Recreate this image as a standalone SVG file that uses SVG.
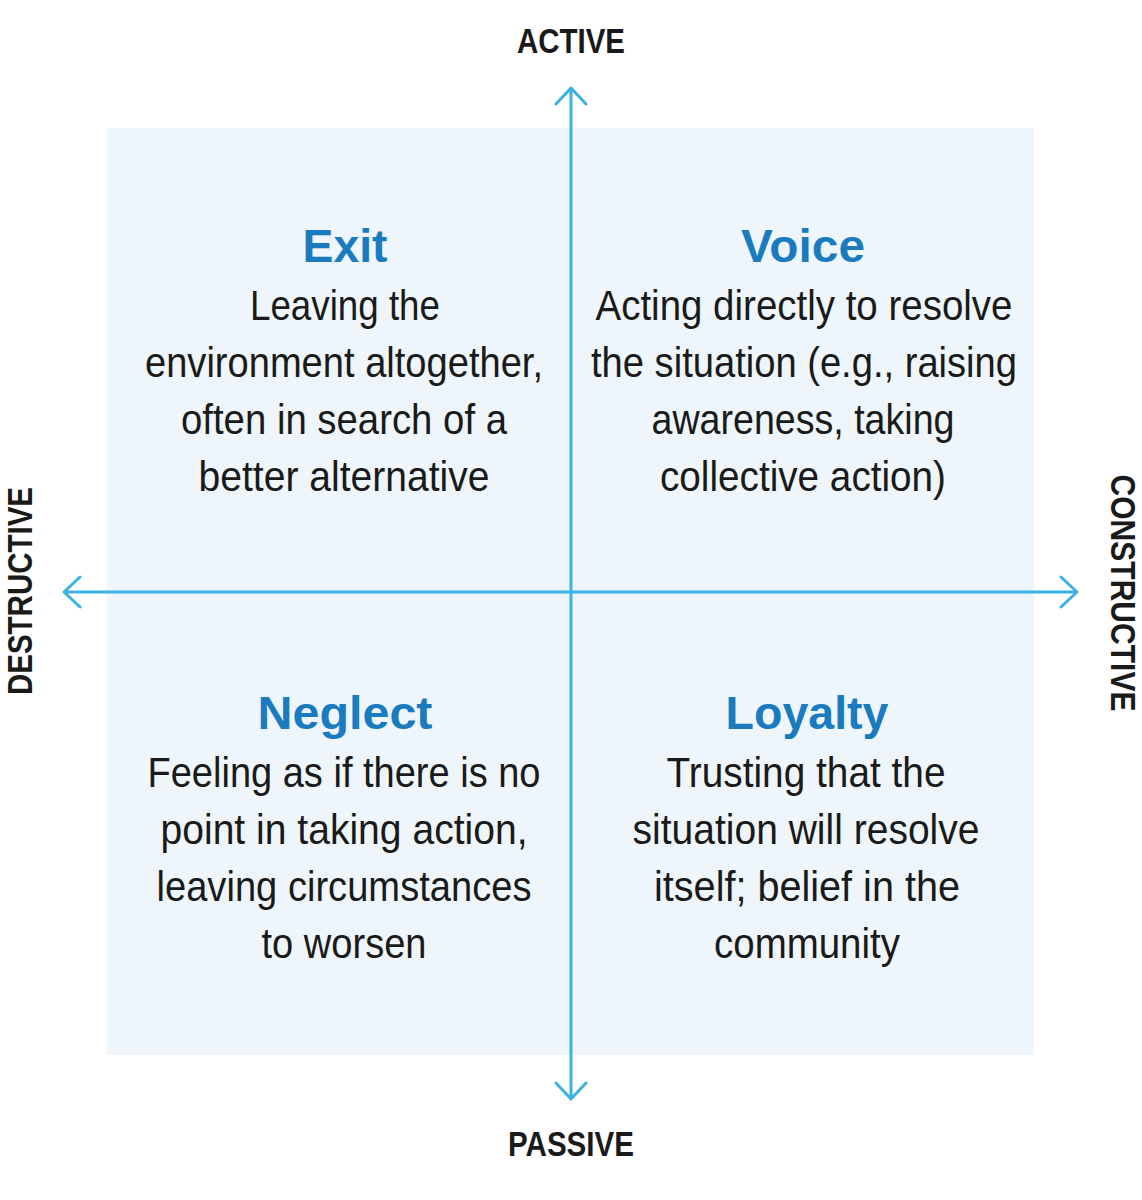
<svg xmlns="http://www.w3.org/2000/svg" width="1142" height="1200" viewBox="0 0 1142 1200">
<style>
.t{font-family:"Liberation Sans Narrow","Liberation Sans",Arial,sans-serif;font-weight:bold;font-size:46px;fill:#1b7bbf;text-anchor:middle}
.b{font-family:"Liberation Sans Narrow","Liberation Sans",Arial,sans-serif;font-size:42px;fill:#1a1a1a;text-anchor:middle}
.a{font-family:"Liberation Sans Narrow","Liberation Sans",Arial,sans-serif;font-weight:bold;font-size:35px;fill:#1a1a1a;text-anchor:middle}
.ax{stroke:#3cb1e3;stroke-width:3;fill:none;stroke-linecap:round;stroke-linejoin:round}
</style>
<rect x="0" y="0" width="1142" height="1200" fill="#fff"/>
<rect x="107" y="128" width="927" height="927" fill="#eef6fb"/>
<g id="connectors">
<path class="ax" d="M571 88V1099M556 104L571 88L586 104M556 1083L571 1099L586 1083"/>
<path class="ax" d="M64 592H1077M80 577L64 592L80 607M1061 577L1077 592L1061 607"/>
</g>
<g id="axis-labels">
<text class="a" x="571" y="53" textLength="108" lengthAdjust="spacingAndGlyphs">ACTIVE</text>
<text class="a" x="571" y="1156" textLength="126" lengthAdjust="spacingAndGlyphs">PASSIVE</text>
<text class="a" transform="translate(32 591) rotate(-90)" textLength="208" lengthAdjust="spacingAndGlyphs">DESTRUCTIVE</text>
<text class="a" transform="translate(1111 593) rotate(90)" textLength="237" lengthAdjust="spacingAndGlyphs">CONSTRUCTIVE</text>
</g>
<g id="exit">
<text class="t" x="345" y="262" textLength="85" lengthAdjust="spacingAndGlyphs">Exit</text>
<text class="b" x="345" y="320" textLength="190" lengthAdjust="spacingAndGlyphs">Leaving the</text>
<text class="b" x="344" y="377" textLength="398" lengthAdjust="spacingAndGlyphs">environment altogether,</text>
<text class="b" x="344" y="434" textLength="326" lengthAdjust="spacingAndGlyphs">often in search of a</text>
<text class="b" x="344" y="491" textLength="291" lengthAdjust="spacingAndGlyphs">better alternative</text>
</g>
<g id="voice">
<text class="t" x="803" y="262" textLength="124" lengthAdjust="spacingAndGlyphs">Voice</text>
<text class="b" x="804" y="320" textLength="417" lengthAdjust="spacingAndGlyphs">Acting directly to resolve</text>
<text class="b" x="804" y="377" textLength="426" lengthAdjust="spacingAndGlyphs">the situation (e.g., raising</text>
<text class="b" x="803" y="434" textLength="303" lengthAdjust="spacingAndGlyphs">awareness, taking</text>
<text class="b" x="803" y="491" textLength="286" lengthAdjust="spacingAndGlyphs">collective action)</text>
</g>
<g id="neglect">
<text class="t" x="345" y="729" textLength="175" lengthAdjust="spacingAndGlyphs">Neglect</text>
<text class="b" x="344" y="787" textLength="393" lengthAdjust="spacingAndGlyphs">Feeling as if there is no</text>
<text class="b" x="344" y="844" textLength="367" lengthAdjust="spacingAndGlyphs">point in taking action,</text>
<text class="b" x="344" y="901" textLength="375" lengthAdjust="spacingAndGlyphs">leaving circumstances</text>
<text class="b" x="344" y="958" textLength="165" lengthAdjust="spacingAndGlyphs">to worsen</text>
</g>
<g id="loyalty">
<text class="t" x="807" y="729" textLength="163" lengthAdjust="spacingAndGlyphs">Loyalty</text>
<text class="b" x="806" y="787" textLength="279" lengthAdjust="spacingAndGlyphs">Trusting that the</text>
<text class="b" x="806" y="844" textLength="347" lengthAdjust="spacingAndGlyphs">situation will resolve</text>
<text class="b" x="807" y="901" textLength="306" lengthAdjust="spacingAndGlyphs">itself; belief in the</text>
<text class="b" x="807" y="958" textLength="186" lengthAdjust="spacingAndGlyphs">community</text>
</g>
</svg>
